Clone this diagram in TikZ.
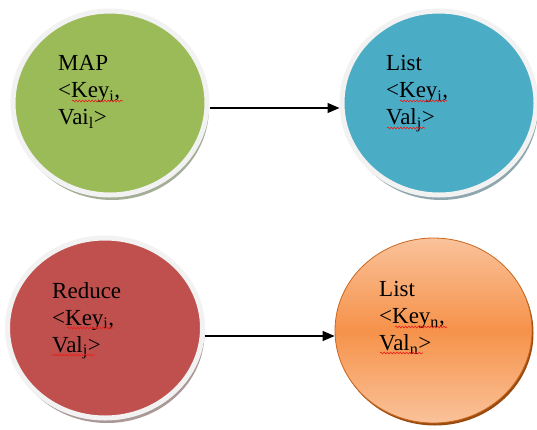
\documentclass[tikz,border=0pt]{standalone}
\usepackage{fontspec}
\setmainfont{Liberation Serif}
\usetikzlibrary{shapes.geometric,arrows.meta,decorations.pathmorphing,shadows}

\definecolor{mapgreen}{HTML}{9BBB59}
\definecolor{listblue}{HTML}{4BACC6}
\definecolor{reducered}{HTML}{C0504D}
\definecolor{orangemid}{HTML}{F6924A}
\definecolor{orangelight}{HTML}{FAC29A}
\definecolor{orangeedge}{HTML}{C8671E}
\definecolor{orangeshade}{HTML}{9A4C10}
\definecolor{ringwhite}{HTML}{F2F2F2}
\definecolor{greenshade}{HTML}{A4AD96}
\definecolor{blueshade}{HTML}{8EA6AD}
\definecolor{redshade}{HTML}{A99896}
\definecolor{squigred}{HTML}{E8201A}

\tikzset{
  ringed/.style={ellipse, draw=ringwhite, line width=5pt, inner sep=0pt,
    minimum width=194pt, minimum height=184pt},
  shade/.style={drop shadow={shadow xshift=2pt, shadow yshift=-5pt,
    fill=#1, opacity=1}},
  caption/.style={anchor=north west, inner sep=0pt, align=left,
    font=\fontsize{23}{27}\selectfont},
  flow/.style={line width=1.2pt, -{Triangle[length=12pt,width=10pt]}},
  squig/.style={squigred, line width=0.6pt, decorate,
    decoration={snake, amplitude=0.9pt, segment length=3.2pt}}
}

\begin{document}
\begin{tikzpicture}[x=1pt, y=-1pt]
  \useasboundingbox (0,0) rectangle (537,429);

  % the four stages
  \node[ringed, fill=mapgreen, shade=greenshade] (map) at (110,103) {};
  \node[ringed, fill=listblue, shade=blueshade] (list) at (439,103) {};
  \node[ringed, fill=reducered, shade=redshade, minimum width=195pt,
        minimum height=180pt] (reduce) at (105,328) {};
  \node[ellipse, inner sep=0pt, minimum width=197pt, minimum height=185pt,
        top color=orangelight, bottom color=orangelight, middle color=orangemid,
        draw=orangeedge, line width=0.8pt,
        drop shadow={shadow xshift=1.5pt, shadow yshift=-2.5pt,
          fill=orangeshade, opacity=1}] (out) at (433.5,330.5) {};

  % labels
  \node[caption] (maptext) at (58,55) {MAP\\<Key\textsubscript{i},\\Vai\textsubscript{l}>};
  \node[caption] (listtext) at (386,55) {List\\<Key\textsubscript{i},\\Val\textsubscript{j}>};
  \node[caption] (reducetext) at (52,282) {Reduce\\<Key\textsubscript{i},\\Val\textsubscript{j}>};
  \node[caption] (outtext) at (379,281) {List\\<Key\textsubscript{n},\\Val\textsubscript{n}>};

  % spell-check underlines
  \draw[squig] (72,101) -- (123,101);
  \draw[squig] (400,101) -- (447,101);
  \draw[squig] (387,128) -- (425,128);
  \draw[squig] (67,328) -- (113,328);
  \draw[squig] (52,355) -- (95,355);
  \draw[squig] (395,327) -- (447,327);
  \draw[squig] (380,353) -- (423,353);

  % connectors
  \draw[flow] ([yshift=-5pt]map.east) -- ([yshift=-5pt]map.east -| list.west);
  \draw[flow] ([yshift=-8pt]reduce.east) -- ([yshift=-8pt]reduce.east -| out.west);
\end{tikzpicture}
\end{document}
